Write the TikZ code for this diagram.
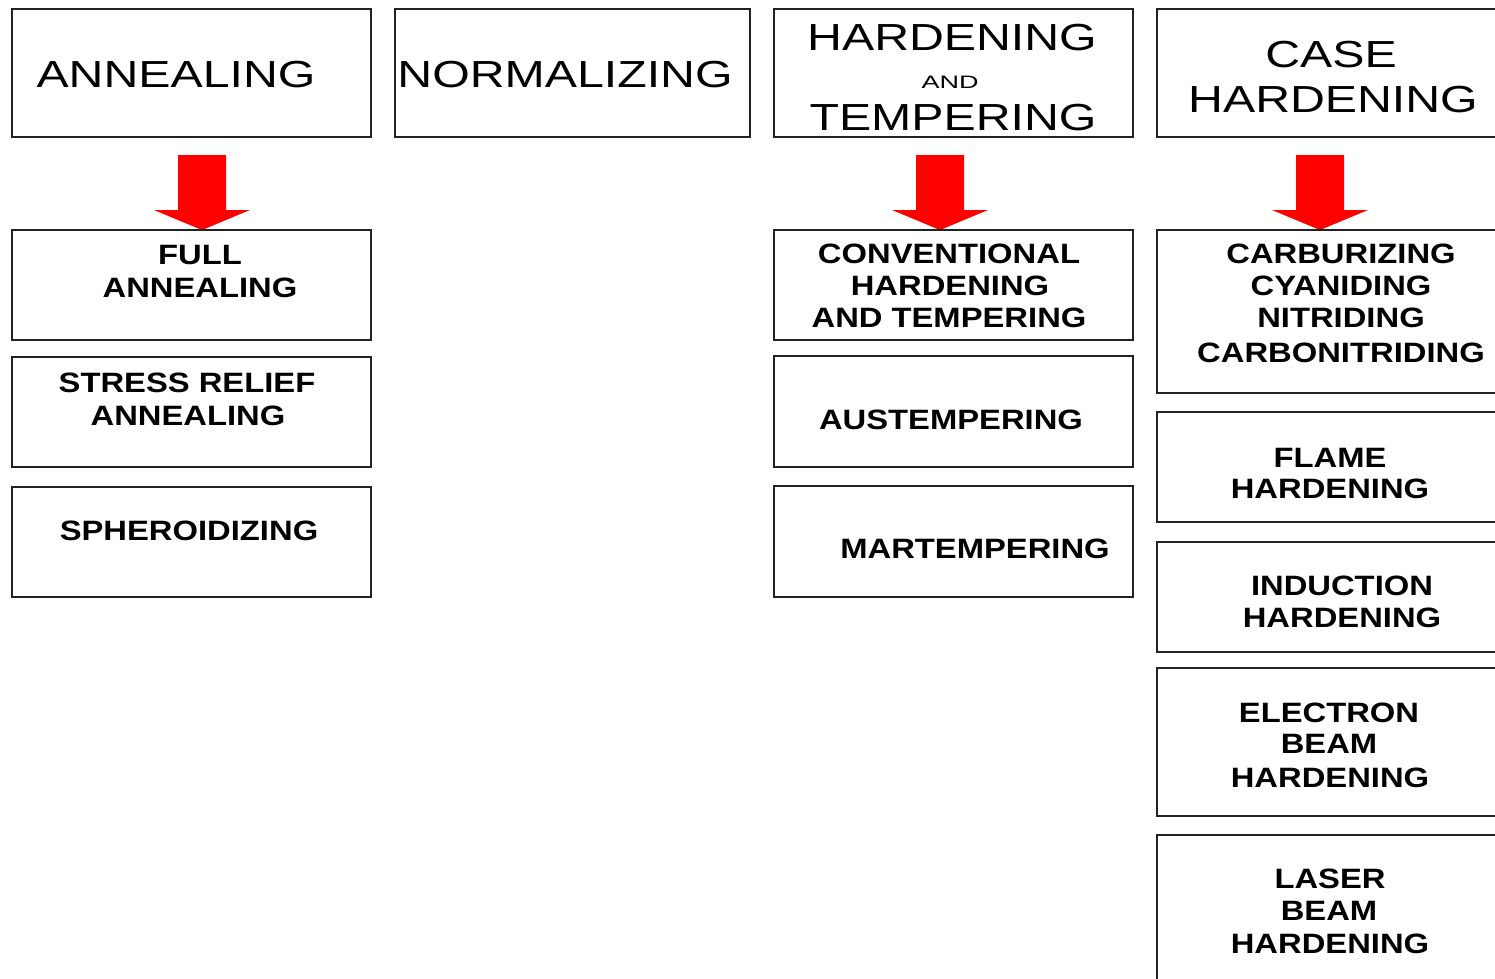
\documentclass[tikz,border=0pt]{standalone}
\usepackage{fontspec}
\newfontfamily\hdfont[FakeStretch=1.28]{Liberation Sans}
\newfontfamily\andfont[FakeStretch=1.5]{Liberation Sans}
\newfontfamily\smfont[FakeStretch=1.17]{Liberation Sans Bold}
\definecolor{edge}{HTML}{222222}
\definecolor{arrowred}{HTML}{FF0000}
\tikzset{
  box/.style={draw=edge, line width=2pt, inner sep=0pt, fill=white},
  hd/.style={anchor=base, inner sep=0pt, font=\hdfont\fontsize{37.7}{40}\selectfont},
  andtxt/.style={anchor=base, inner sep=0pt, font=\andfont\fontsize{18}{20}\selectfont},
  sm/.style={anchor=base, inner sep=0pt, font=\smfont\fontsize{28}{30}\selectfont},
  redarrow/.style={fill=arrowred, draw=none}
}
\newcommand\boxat[5]{\node[box, minimum width={#4-#2}, minimum height={#5-#3}] (#1) at ({(#2+#4)/2},{(#3+#5)/2}) {};}
\newcommand\redarrowdown[3]{% name, center x, top y
  \fill[redarrow] (#2-24,#3) -- (#2+24,#3) -- (#2+24,#3+55) -- (#2+48,#3+55) -- (#2,#3+75) -- (#2-48,#3+55) -- (#2-24,#3+55) -- cycle;
  \coordinate (#1) at (#2,#3+75);}
\begin{document}
\begin{tikzpicture}[x=1pt,y=-1pt]
\useasboundingbox (0,0) rectangle (1495,978);
\clip (0,0) rectangle (1495,978);
\fill[white] (0,0) rectangle (1495,978);
% top row
\boxat{b1}{12}{9}{371}{137}
\boxat{b2}{395}{9}{750}{137}
\boxat{b3}{774}{9}{1133}{137}
\boxat{b4}{1157}{9}{1516}{137}
\node[hd] (t1) at (176,87) {ANNEALING};
\node[hd] (t2) at (565,87) {NORMALIZING};
\node[hd] (t3a) at (952,50) {HARDENING};
\node[andtxt] (t3b) at (950,88) {AND};
\node[hd] (t3c) at (953,130) {TEMPERING};
\node[hd] (t4a) at (1331,67) {CASE};
\node[hd] (t4b) at (1333,112) {HARDENING};
% arrows
\redarrowdown{a1}{202}{155}
\redarrowdown{a3}{940}{155}
\redarrowdown{a4}{1320}{155}
% column 1
\boxat{c1a}{12}{230}{371}{340}
\boxat{c1b}{12}{357}{371}{467}
\boxat{c1c}{12}{487}{371}{597}
\node[sm] (s1a) at (200,264) {FULL};
\node[sm] (s1b) at (200,297) {ANNEALING};
\node[sm] (s1c) at (187,392) {STRESS RELIEF};
\node[sm] (s1d) at (188,425) {ANNEALING};
\node[sm] (s1e) at (189,540) {SPHEROIDIZING};
% column 3
\boxat{c3a}{774}{230}{1133}{340}
\boxat{c3b}{774}{356}{1133}{467}
\boxat{c3c}{774}{486}{1133}{597}
\node[sm] (s3a) at (949,263) {CONVENTIONAL};
\node[sm] (s3b) at (950,295) {HARDENING};
\node[sm] (s3c) at (949,327) {AND TEMPERING};
\node[sm] (s3d) at (951,429) {AUSTEMPERING};
\node[sm] (s3e) at (975,558) {MARTEMPERING};
% column 4
\boxat{c4a}{1157}{230}{1516}{393}
\boxat{c4b}{1157}{412}{1516}{522}
\boxat{c4c}{1157}{542}{1516}{652}
\boxat{c4d}{1157}{668}{1516}{816}
\boxat{c4e}{1157}{835}{1516}{1000}
\node[sm] (s4a) at (1341,263) {CARBURIZING};
\node[sm] (s4b) at (1341,295) {CYANIDING};
\node[sm] (s4c) at (1341,327) {NITRIDING};
\node[sm] (s4d) at (1341,362) {CARBONITRIDING};
\node[sm] (s4e) at (1330,467) {FLAME};
\node[sm] (s4f) at (1330,498) {HARDENING};
\node[sm] (s4g) at (1342,595) {INDUCTION};
\node[sm] (s4h) at (1342,627) {HARDENING};
\node[sm] (s4i) at (1329,722) {ELECTRON};
\node[sm] (s4j) at (1329,753) {BEAM};
\node[sm] (s4k) at (1330,787) {HARDENING};
\node[sm] (s4l) at (1330,888) {LASER};
\node[sm] (s4m) at (1329,920) {BEAM};
\node[sm] (s4n) at (1330,953) {HARDENING};
\end{tikzpicture}
\end{document}
